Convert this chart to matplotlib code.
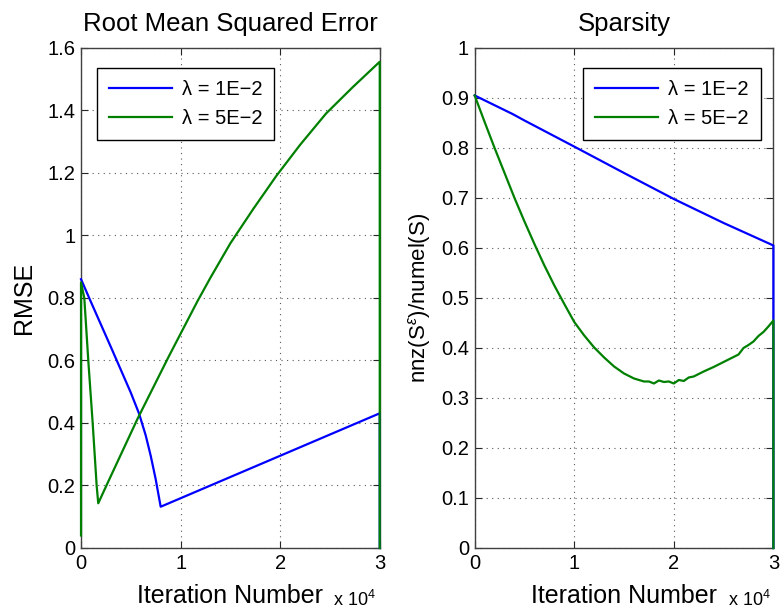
import matplotlib
matplotlib.use("Agg")
import matplotlib.pyplot as plt
from matplotlib.ticker import FormatStrFormatter

plt.rcParams['font.family'] = ['Liberation Sans', 'DejaVu Sans']
plt.rcParams['mathtext.fontset'] = 'custom'
plt.rcParams['mathtext.rm'] = 'Liberation Sans'
plt.rcParams['mathtext.it'] = 'Liberation Sans:italic'

# RMSE curves (iterations, value)
rmse_x_1e2 = [0, 1000, 2000, 3000, 4000, 5000, 5830, 6500, 7000, 7500, 8000,
              30000, 30000]
rmse_y_1e2 = [0.86, 0.787, 0.715, 0.643, 0.57, 0.497, 0.43, 0.36, 0.295, 0.22,
              0.132, 0.431, 0.0]

rmse_x_5e2 = [0, 0, 330, 730, 1170, 1570, 1730, 2700, 5700, 8800, 11700,
              13000, 15000, 17300, 19600, 22000, 24600, 27300, 30000, 30000]
rmse_y_5e2 = [0.04, 0.85, 0.80, 0.60, 0.40, 0.20, 0.143, 0.21, 0.415, 0.612,
              0.79, 0.865, 0.975, 1.085, 1.19, 1.29, 1.39, 1.475, 1.556, 0.0]

# sparsity curves
sp_x_1e2 = [0, 3800, 5000, 10170, 15000, 20000, 25000, 30000, 30000]
sp_y_1e2 = [0.905, 0.868, 0.855, 0.801, 0.750, 0.698, 0.650, 0.605, 0.0]

sp_x_5e2 = [0, 1000, 2000, 3000, 4000, 5000, 6000, 7000, 8000, 9000, 10000,
            11000, 12000, 13000, 14000, 15000, 16000, 17000, 17500, 18000,
            18500, 19000, 19500, 20000, 20500, 21000, 21500, 22000, 23000,
            24000, 25000, 26000, 26500, 27000, 27500, 28000, 28500, 29000,
            29500, 30000, 30000]
sp_y_5e2 = [0.905, 0.852, 0.800, 0.750, 0.700, 0.653, 0.608, 0.565, 0.525,
            0.488, 0.452, 0.425, 0.401, 0.381, 0.363, 0.349, 0.339, 0.333,
            0.333, 0.329, 0.335, 0.332, 0.333, 0.329, 0.336, 0.334, 0.341,
            0.343, 0.353, 0.362, 0.372, 0.382, 0.387, 0.400, 0.406, 0.413,
            0.424, 0.432, 0.443, 0.455, 0.0]

labels = ['λ = 1E−2', 'λ = 5E−2']
x_ticks = [0, 10000, 20000, 30000]
x_tick_labels = ['0', '1', '2', '3']

BLUE = (0, 0, 1)
GREEN = (0, 0.5, 0)


def style_axes(ax):
    ax.set_xlim(0, 30000)
    ax.set_xticks(x_ticks)
    ax.set_xticklabels(x_tick_labels)
    ax.yaxis.set_major_formatter(FormatStrFormatter('%g'))
    ax.tick_params(direction='in', top=True, right=True, length=5,
                   width=0.8, labelsize=14.5, colors='0.15', labelcolor='black', pad=4)
    ax.grid(True, linestyle=(0, (1, 4)), color='0.35', linewidth=0.8)
    for sp in ax.spines.values():
        sp.set_color('0.25')
        sp.set_linewidth(1.0)
    ax.set_xlabel('Iteration Number', fontsize=18, labelpad=8)


def legend(ax, loc, anchor):
    leg = ax.legend(loc=loc, bbox_to_anchor=anchor, borderaxespad=0,
                    fontsize=14.5, fancybox=False, framealpha=1, edgecolor='black',
                    handlelength=3.1, handletextpad=0.5, borderpad=0.6, labelspacing=0.5)
    leg.get_frame().set_linewidth(1.0)
    leg.set_zorder(5)


fig = plt.figure(figsize=(7.82, 6.09), dpi=100)
ax1 = fig.add_axes([0.1036, 0.1002, 0.382, 0.821])
ax2 = fig.add_axes([0.607, 0.1002, 0.382, 0.821])

ax1.plot(rmse_x_1e2, rmse_y_1e2, color=BLUE, lw=1.6, label=labels[0], clip_on=False, zorder=3)
ax1.plot(rmse_x_5e2, rmse_y_5e2, color=GREEN, lw=1.6, label=labels[1], clip_on=False, zorder=3)
style_axes(ax1)
ax1.set_ylim(0, 1.6)
ax1.set_yticks([0, 0.2, 0.4, 0.6, 0.8, 1.0, 1.2, 1.4, 1.6])
ax1.set_ylabel('RMSE', fontsize=18, labelpad=8)
ax1.set_title('Root Mean Squared Error', fontsize=18.5, pad=12)
legend(ax1, 'upper left', (0.0535, 0.96))

ax2.plot(sp_x_1e2, sp_y_1e2, color=BLUE, lw=1.6, label=labels[0], clip_on=False, zorder=3)
ax2.plot(sp_x_5e2, sp_y_5e2, color=GREEN, lw=1.6, label=labels[1], clip_on=False, zorder=3)
style_axes(ax2)
ax2.set_ylim(0, 1)
ax2.set_yticks([0, 0.1, 0.2, 0.3, 0.4, 0.5, 0.6, 0.7, 0.8, 0.9, 1.0])
ax2.set_ylabel(r'nnz(S$^{\varepsilon}$)/numel(S)', fontsize=16, labelpad=6)
ax2.set_title('Sparsity', fontsize=18.5, pad=12)
legend(ax2, 'upper right', (0.957, 0.96))

fig.text(333 / 782, 1 - 606 / 609, r'x 10$^4$', fontsize=13, va='baseline')
fig.text(728 / 782, 1 - 606 / 609, r'x 10$^4$', fontsize=13, va='baseline')

fig.savefig('out.png', dpi=100)
